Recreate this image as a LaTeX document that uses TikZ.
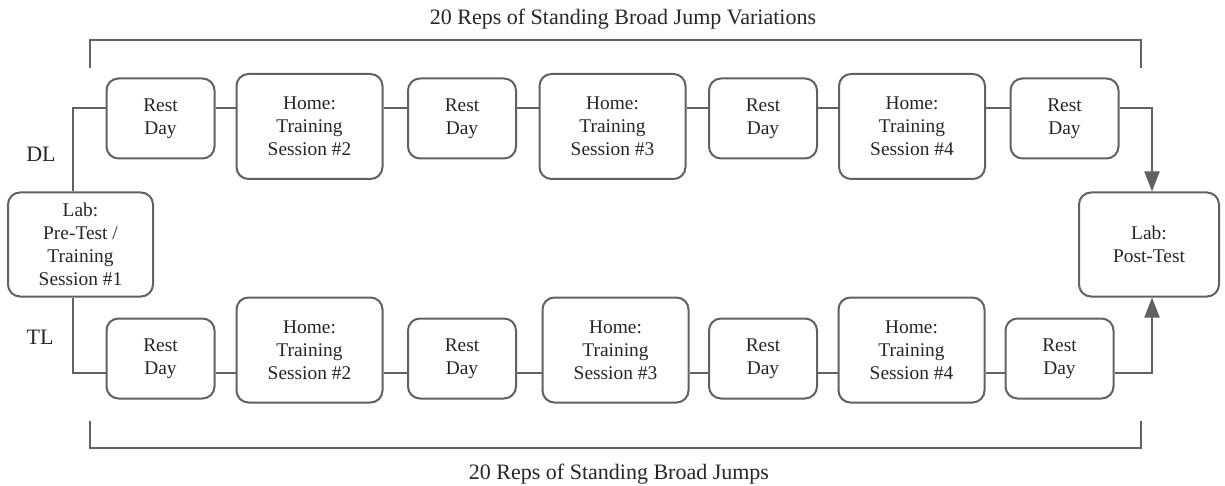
\documentclass[tikz,border=0pt]{standalone}
\usepackage{fontspec}
\setmainfont{Liberation Serif}
\usepackage{tikz}
\usetikzlibrary{arrows.meta,positioning}

\begin{document}
\begin{tikzpicture}[
        x=1pt, y=-1pt,
        box/.style={draw=black!62, line width=2pt, rounded corners=12pt, align=center,
            inner sep=0pt, text=black!85, font=\fontsize{19.4}{23}\selectfont},
        rest/.style={box, minimum width=108pt, minimum height=80pt},
        home/.style={box, minimum width=146pt, minimum height=105pt},
        link/.style={draw=black!62, line width=2pt},
        tip/.style={-{Triangle[length=20pt,width=15pt]}},
        lbl/.style={text=black!85, font=\fontsize{22}{26}\selectfont}
    ]
    \useasboundingbox (0,0) rectangle (1225,486);

    % lab visits
    \node[box, minimum width=145pt, minimum height=104pt] (Pre) at (80.5,244.5) {Lab:\\Pre-Test /\\Training\\Session \#1};
    \node[box, minimum width=140pt, minimum height=104pt] (Post) at (1149,244.5) {Lab:\\Post-Test};

    % DL row
    \node[rest] (D1) at (160.5,118.5) {Rest\\Day};
    \node[home] (D2) at (309.5,126.5) {Home:\\Training\\Session \#2};
    \node[rest] (D3) at (462,118.5) {Rest\\Day};
    \node[home] (D4) at (612.5,126.5) {Home:\\Training\\Session \#3};
    \node[rest] (D5) at (763,118.5) {Rest\\Day};
    \node[home] (D6) at (912,126.5) {Home:\\Training\\Session \#4};
    \node[rest] (D7) at (1064.5,118.5) {Rest\\Day};

    % TL row
    \node[rest] (T1) at (160.5,358.5) {Rest\\Day};
    \node[home] (T2) at (309.5,350) {Home:\\Training\\Session \#2};
    \node[rest] (T3) at (462,358.5) {Rest\\Day};
    \node[home] (T4) at (615.5,350) {Home:\\Training\\Session \#3};
    \node[rest] (T5) at (763,358.5) {Rest\\Day};
    \node[home] (T6) at (911.5,350) {Home:\\Training\\Session \#4};
    \node[rest] (T7) at (1059.5,358.5) {Rest\\Day};

    \node[lbl] (DL) at (41,154) {DL};
    \node[lbl] (TL) at (40,337) {TL};

    \coordinate (dl) at (0,108);
    \coordinate (tl) at (0,373);

        % 1
        \path[link] ([xshift=-7.5pt]Pre.north) |- (D1.west |- dl);
        \path[link] (D1.east |- dl) -- (D2.west |- dl);
        \path[link] (D2.east |- dl) -- (D3.west |- dl);
        \path[link] (D3.east |- dl) -- (D4.west |- dl);
        \path[link] (D4.east |- dl) -- (D5.west |- dl);
        \path[link] (D5.east |- dl) -- (D6.west |- dl);
        \path[link] (D6.east |- dl) -- (D7.west |- dl);
        \path[link, tip] (D7.east |- dl) -| ([xshift=3pt]Post.north);

        % 2
        \path[link] ([xshift=-7.5pt]Pre.south) |- (T1.west |- tl);
        \path[link] (T1.east |- tl) -- (T2.west |- tl);
        \path[link] (T2.east |- tl) -- (T3.west |- tl);
        \path[link] (T3.east |- tl) -- (T4.west |- tl);
        \path[link] (T4.east |- tl) -- (T5.west |- tl);
        \path[link] (T5.east |- tl) -- (T6.west |- tl);
        \path[link] (T6.east |- tl) -- (T7.west |- tl);
        \path[link, tip] (T7.east |- tl) -| ([xshift=3pt]Post.south);

        % brackets
        \coordinate (ba) at (90,68);
        \coordinate (bb) at (1141,68);
        \coordinate (bc) at (90,421);
        \coordinate (bd) at (1141,421);
        \path[link] (ba) |- (bb |- 0,40) -- (bb);
        \path[link] (bc) |- (bd |- 0,448) -- (bd);
        \node[lbl] (var) at (623,19) {20 Reps of Standing Broad Jump Variations};
        \node[lbl] (std) at (619,474) {20 Reps of Standing Broad Jumps};

    \end{tikzpicture}
\end{document}
